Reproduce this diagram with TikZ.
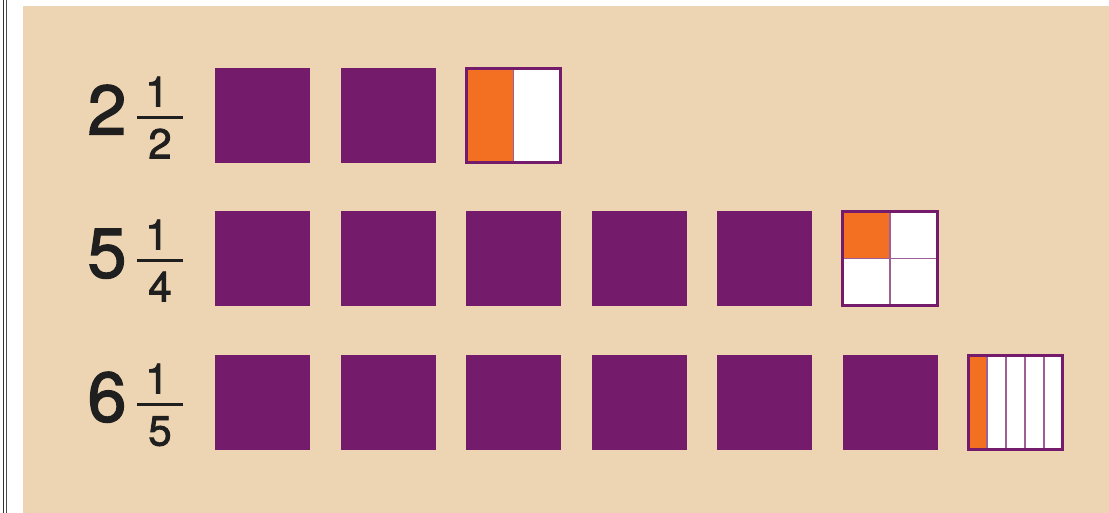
\documentclass[tikz,border=0pt]{standalone}
\usepackage{fontspec}
\setmainfont{TeX Gyre Heros}
\newfontfamily\numfont{TeX Gyre Heros}[FakeBold=2]
\usetikzlibrary{calc}
\definecolor{MPurple}{HTML}{741B6B}
\definecolor{MOrange}{HTML}{F36F21}
\definecolor{MTan}{HTML}{EDD4B3}

\begin{document}
\begin{tikzpicture}[x=1pt,y=-1pt,
  whole/.style={draw=MPurple,fill=MPurple,line width=1pt,minimum size=94pt,inner sep=0pt},
  part/.style={fill=white,minimum size=94pt,inner sep=0pt},
  frame/.style={draw=MPurple,line width=2.8pt},
  divider/.style={draw=MPurple!70,line width=1.7pt},
  bignum/.style={font=\numfont\fontsize{70}{70}\selectfont,anchor=base,inner sep=0pt,text=black!88},
  smallnum/.style={font=\numfont\fontsize{42}{42}\selectfont,anchor=base,inner sep=0pt,text=black!88}
]
  \useasboundingbox (0,0) rectangle (1109,513);
  \fill[white] (0,0) rectangle (1109,513);
  \fill[MTan] (23,6) rectangle (1109,513);
  \draw[line width=1.2pt,black!80] (3.3,0) -- (3.3,513);
  \draw[line width=0.8pt,black!70] (6.3,0) -- (6.3,513);

  % one row per mixed number: row / centre y / whole part / denominator
  \foreach \r/\y/\k/\den in {1/115.5/2/2, 2/258.5/5/4, 3/402.5/6/5}{
    % label
    \node[bignum] (w\r) at (107,\y+19) {\k};
    \node[smallnum] (n\r) at (157,\y-9) {1};
    \node[smallnum] (dn\r) at (160,\y+43) {\den};
    \draw[line width=2.8pt,black!88] (137,\y+2) -- (183,\y+2);
    % whole squares
    \foreach \i in {1,...,\k}
      \node[whole] (s\r-\i) at ({262.5+125.5*(\i-1)},\y) {};
    % the fraction square
    \node[part] (p\r) at ({262.5+125.5*\k},\y) {};
    \ifnum\den=4
      \fill[MOrange] (p\r.north west) rectangle (p\r.center);
      \draw[divider] (p\r.north) -- (p\r.south);
      \draw[divider] (p\r.west) -- (p\r.east);
    \else
      \fill[MOrange] (p\r.north west) rectangle ($(p\r.south west)!1/\den!(p\r.south east)$);
      \pgfmathtruncatemacro\last{\den-1}
      \foreach \j in {1,...,\last}
        \draw[divider] ($(p\r.north west)!\j/\den!(p\r.north east)$)
          -- ($(p\r.south west)!\j/\den!(p\r.south east)$);
    \fi
    \draw[frame] (p\r.north west) rectangle (p\r.south east);
  }
\end{tikzpicture}
\end{document}
